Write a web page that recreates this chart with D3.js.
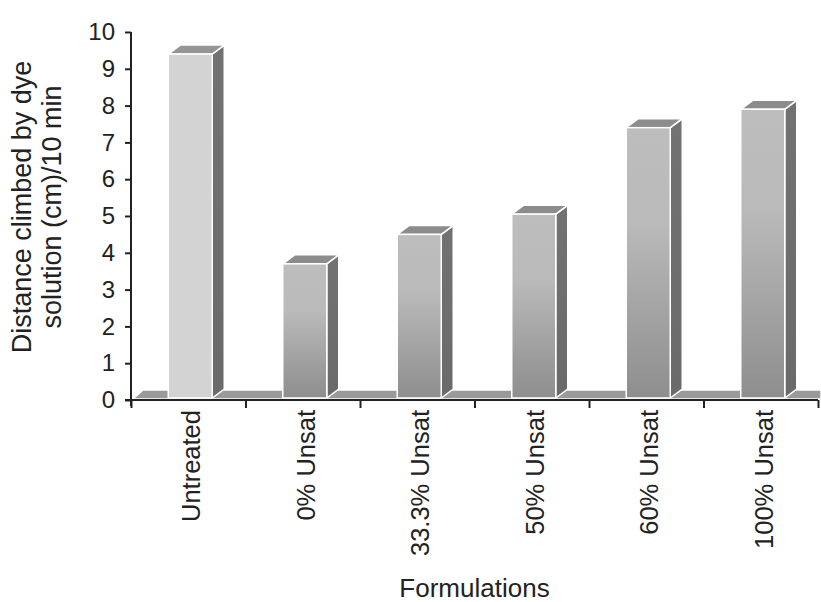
<!DOCTYPE html>
<html>
<head>
<meta charset="utf-8">
<script src="https://cdn.jsdelivr.net/npm/d3@7"></script>
<style>
  body { margin: 0; background: #fff; }
  text { font-family: "Liberation Sans", Arial, sans-serif; fill: #222; }
</style>
</head>
<body>
<svg id="chart" width="821" height="602"></svg>
<script>
// data
var categories = ["Untreated", "0% Unsat", "33.3% Unsat", "50% Unsat", "60% Unsat", "100% Unsat"];
var values = [9.4, 3.7, 4.5, 5.05, 7.4, 7.9];
var yTicks = [0, 1, 2, 3, 4, 5, 6, 7, 8, 9, 10];

var svg = d3.select("#chart");

var x0 = 131, x1 = 818, yBase = 400, yTop = 32;
var dx = 12, dy = -9;   // depth of the 3d look
var barW = 44;

var x = d3.scaleBand().domain(categories).range([x0, x1]).padding(0);
var xi = d3.scaleLinear().domain([0, categories.length]).range([x0, x1]);
var y = d3.scaleLinear().domain([0, 10]).range([yBase, yTop]);

// gradients
var defs = svg.append("defs");
var g1 = defs.append("linearGradient").attr("id", "front").attr("x1", 0).attr("y1", 0).attr("x2", 0).attr("y2", 1);
g1.append("stop").attr("offset", "0%").attr("stop-color", "#bdbdbd");
g1.append("stop").attr("offset", "35%").attr("stop-color", "#bababa");
g1.append("stop").attr("offset", "100%").attr("stop-color", "#8e8e8e");
var g2 = defs.append("linearGradient").attr("id", "side").attr("x1", 0).attr("y1", 0).attr("x2", 0).attr("y2", 1);
g2.append("stop").attr("offset", "0%").attr("stop-color", "#727272");
g2.append("stop").attr("offset", "100%").attr("stop-color", "#6a6a6a");

// floor
svg.append("path")
  .attr("d", "M" + (x0 + 2) + "," + (yBase - 1) + "L" + (x0 + 2 + 10) + "," + (yBase - 1 + dy) +
             "L821," + (yBase - 1 + dy) + "L821," + (yBase - 1) + "Z")
  .attr("fill", "#9a9a9a")
  .attr("stroke", "#fff")
  .attr("stroke-width", 1.5);

// bars
var bars = svg.append("g").selectAll("g")
  .data(categories)
  .enter()
  .append("g");

bars.each(function(c, i) {
  var g = d3.select(this);
  var left = x(c) + x.bandwidth() / 2 + 2 - barW / 2;
  var right = left + barW;
  var top = y(values[i]);
  var bot = yBase - 2;
  var untreated = (i == 0);

  // side
  g.append("path")
    .attr("d", "M" + right + "," + top + "L" + (right + dx) + "," + (top + dy) +
               "L" + (right + dx) + "," + (bot + dy) + "L" + right + "," + bot + "Z")
    .attr("fill", "url(#side)")
    .attr("stroke", "#fff")
    .attr("stroke-width", 1.5);
  // top
  g.append("path")
    .attr("d", "M" + left + "," + top + "L" + (left + dx) + "," + (top + dy) +
               "L" + (right + dx) + "," + (top + dy) + "L" + right + "," + top + "Z")
    .attr("fill", untreated ? "#959595" : "#8c8c8c")
    .attr("stroke", "#fff")
    .attr("stroke-width", 1.5);
  // front
  g.append("rect")
    .attr("x", left)
    .attr("y", top)
    .attr("width", barW)
    .attr("height", bot - top)
    .attr("fill", untreated ? "#d3d3d3" : "url(#front)")
    .attr("stroke", "#fff")
    .attr("stroke-width", 1.5);
});

// y axis
var yAxis = svg.append("g")
  .attr("transform", "translate(" + x0 + ",0)")
  .call(d3.axisLeft(y).tickValues(yTicks).tickSize(6).tickPadding(10).tickFormat(d3.format("d")));
yAxis.select(".domain").attr("d", "M0," + yTop + "V" + (yBase + 6)).attr("stroke", "#222").attr("stroke-width", 2);
yAxis.selectAll(".tick line").attr("stroke", "#222").attr("stroke-width", 2);
yAxis.selectAll(".tick text").style("font-size", "24px").attr("fill", "#222");

// x axis, ticks between categories
var xAxis = svg.append("g")
  .attr("transform", "translate(0," + yBase + ")")
  .call(d3.axisBottom(xi).tickValues(d3.range(categories.length + 1)).tickSize(8).tickFormat(""));
xAxis.select(".domain").attr("d", "M" + (x0 - 6) + ",0H" + x1).attr("stroke", "#222").attr("stroke-width", 2);
xAxis.selectAll(".tick line").attr("stroke", "#222").attr("stroke-width", 2);

// category labels
svg.append("g").selectAll("text")
  .data(categories)
  .enter()
  .append("text")
  .attr("transform", function(d) {
    return "translate(" + (x(d) + x.bandwidth() / 2 + 12) + "," + (yBase + 10) + ") rotate(-90)";
  })
  .attr("text-anchor", "end")
  .style("font-size", "25.5px")
  .text(function(d) { return d; });

// axis titles
svg.append("text")
  .attr("x", (x0 + x1) / 2)
  .attr("y", 597)
  .attr("text-anchor", "middle")
  .style("font-size", "26px")
  .text("Formulations");

var yt = svg.append("text")
  .attr("transform", "translate(31,207) rotate(-90)")
  .attr("text-anchor", "middle")
  .style("font-size", "27px");
yt.append("tspan").attr("x", 0).attr("dy", 0).text("Distance climbed by dye");
yt.append("tspan").attr("x", 0).attr("dy", 30).text("solution (cm)/10 min");
</script>
</body>
</html>
